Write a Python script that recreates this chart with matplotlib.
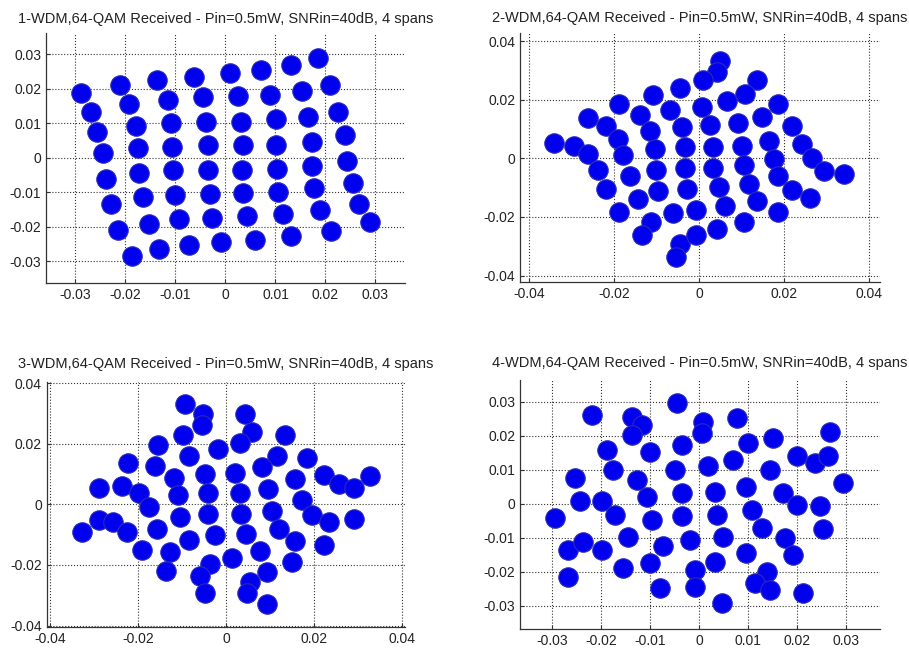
import matplotlib
matplotlib.use('Agg')
import matplotlib.pyplot as plt

plt.rcParams['font.family'] = ['Liberation Sans', 'DejaVu Sans']

TITLE = '{}-WDM,64-QAM Received - Pin=0.5mW, SNRin=40dB, 4 spans'

# --- 1 WDM channel: received symbol clusters (centres) ---
I1 = [-0.0289, -0.0211, -0.0136, -0.0063, 0.0009, 0.0072, 0.0132, 0.0186,
      -0.0269, -0.0193, -0.0115, -0.0045, 0.0025, 0.0089, 0.0153, 0.0209,
      -0.0256, -0.0179, -0.0108, -0.0038, 0.0032, 0.0101, 0.0166, 0.0226,
      -0.0245, -0.0175, -0.0106, -0.0035, 0.0035, 0.0102, 0.0173, 0.0239,
      -0.0239, -0.0172, -0.0104, -0.0035, 0.0034, 0.0104, 0.0174, 0.0243,
      -0.0229, -0.0164, -0.0100, -0.0031, 0.0035, 0.0106, 0.0178, 0.0255,
      -0.0215, -0.0153, -0.0092, -0.0027, 0.0043, 0.0116, 0.0189, 0.0268,
      -0.0187, -0.0133, -0.0073, -0.0008, 0.0059, 0.0131, 0.0211, 0.0290]
Q1 = [0.0186, 0.0211, 0.0225, 0.0235, 0.0244, 0.0254, 0.0267, 0.0288,
      0.0133, 0.0156, 0.0167, 0.0175, 0.0180, 0.0182, 0.0194, 0.0211,
      0.0075, 0.0092, 0.0100, 0.0104, 0.0104, 0.0111, 0.0117, 0.0133,
      0.0013, 0.0027, 0.0032, 0.0037, 0.0037, 0.0037, 0.0046, 0.0066,
      -0.0063, -0.0044, -0.0037, -0.0037, -0.0035, -0.0032, -0.0025, -0.0010,
      -0.0133, -0.0115, -0.0109, -0.0104, -0.0101, -0.0099, -0.0089, -0.0072,
      -0.0210, -0.0192, -0.0179, -0.0176, -0.0169, -0.0163, -0.0152, -0.0133,
      -0.0285, -0.0265, -0.0253, -0.0243, -0.0237, -0.0227, -0.0212, -0.0186]

# --- 2 WDM channels ---
I2 = [0.0050, 0.0042, 0.0010, 0.0136, 0.0109, -0.0045, -0.0108, -0.0187,
      -0.0069, -0.0139, 0.0006, 0.0065, 0.0187, 0.0148, 0.0093, 0.0026,
      -0.0041, -0.0116, -0.0261, -0.0218, -0.0191, -0.0340, -0.0293, -0.0261,
      -0.0179, -0.0104, -0.0033, 0.0034, 0.0101, 0.0164, 0.0219, 0.0243,
      0.0266, -0.0238, -0.0163, -0.0100, -0.0033, 0.0034, 0.0105, 0.0176,
      0.0294, 0.0341, -0.0218, -0.0143, -0.0096, -0.0028, 0.0046, 0.0117,
      0.0187, 0.0219, 0.0262, -0.0187, -0.0112, -0.0061, -0.0006, 0.0061,
      0.0136, 0.0187, -0.0135, -0.0045, -0.0006, 0.0042, 0.0105, -0.0053]
Q2 = [0.0334, 0.0294, 0.0266, 0.0268, 0.0220, 0.0241, 0.0218, 0.0186,
      0.0166, 0.0147, 0.0175, 0.0195, 0.0186, 0.0141, 0.0120, 0.0113,
      0.0107, 0.0095, 0.0139, 0.0109, 0.0067, 0.0052, 0.0044, 0.0016,
      0.0010, 0.0033, 0.0039, 0.0039, 0.0044, 0.0061, 0.0109, 0.0048,
      0.0002, -0.0040, -0.0061, -0.0038, -0.0034, -0.0034, -0.0023, -0.0003,
      -0.0042, -0.0054, -0.0106, -0.0137, -0.0111, -0.0103, -0.0099, -0.0086,
      -0.0061, -0.0109, -0.0134, -0.0183, -0.0217, -0.0186, -0.0177, -0.0163,
      -0.0145, -0.0183, -0.0263, -0.0291, -0.0263, -0.0240, -0.0217, -0.0337]

# --- 3 WDM channels ---
I3 = [-0.0093, -0.0051, -0.0055, -0.0097, 0.0044, 0.0059, 0.0033, 0.0135,
      -0.0154, -0.0085, -0.0017, 0.0116, 0.0185, -0.0222, -0.0161, -0.0047,
      0.0021, 0.0082, -0.0119, 0.0158, 0.0223, 0.0329, 0.0257, 0.0291,
      -0.0290, -0.0237, -0.0199, -0.0108, -0.0040, 0.0033, 0.0097, 0.0173,
      -0.0176, -0.0104, -0.0040, 0.0034, 0.0105, 0.0196, 0.0234, 0.0291,
      -0.0328, -0.0290, -0.0256, -0.0226, -0.0157, -0.0083, -0.0024, 0.0046,
      0.0120, 0.0158, 0.0223, -0.0191, -0.0127, 0.0014, 0.0078, 0.0150,
      -0.0136, -0.0036, -0.0060, 0.0093, 0.0055, 0.0049, -0.0047, 0.0093]
Q3 = [0.0330, 0.0297, 0.0261, 0.0228, 0.0299, 0.0239, 0.0202, 0.0228,
      0.0195, 0.0159, 0.0181, 0.0159, 0.0154, 0.0137, 0.0126, 0.0101,
      0.0104, 0.0123, 0.0086, 0.0082, 0.0097, 0.0093, 0.0066, 0.0055,
      0.0055, 0.0060, 0.0038, 0.0030, 0.0038, 0.0038, 0.0049, 0.0015,
      -0.0009, -0.0042, -0.0033, -0.0031, -0.0022, -0.0036, -0.0059, -0.0048,
      -0.0092, -0.0051, -0.0059, -0.0092, -0.0081, -0.0119, -0.0103, -0.0097,
      -0.0081, -0.0122, -0.0136, -0.0152, -0.0158, -0.0177, -0.0155, -0.0191,
      -0.0221, -0.0197, -0.0235, -0.0224, -0.0257, -0.0294, -0.0294, -0.0329]

# --- 4 WDM channels ---
I4 = [-0.0219, -0.0138, -0.0117, -0.0138, -0.0046, 0.0009, 0.0006, 0.0077,
      -0.0035, -0.0189, -0.0100, 0.0101, 0.0152, 0.0268, 0.0200, 0.0237,
      0.0264, 0.0070, 0.0019, -0.0049, -0.0175, -0.0127, -0.0254, 0.0145,
      0.0295, -0.0035, 0.0033, 0.0097, 0.0172, -0.0243, -0.0199, -0.0107,
      0.0200, 0.0247, -0.0294, -0.0172, -0.0097, -0.0035, 0.0036, 0.0108,
      0.0128, 0.0254, -0.0145, -0.0018, 0.0050, 0.0176, -0.0073, -0.0267,
      -0.0237, -0.0199, 0.0097, 0.0193, -0.0100, 0.0033, -0.0155, -0.0008,
      -0.0267, 0.0138, 0.0115, 0.0145, -0.0080, -0.0008, 0.0213, 0.0046]
Q4 = [0.0261, 0.0256, 0.0231, 0.0202, 0.0295, 0.0241, 0.0207, 0.0251,
      0.0173, 0.0158, 0.0153, 0.0178, 0.0193, 0.0212, 0.0139, 0.0120,
      0.0139, 0.0129, 0.0110, 0.0100, 0.0100, 0.0071, 0.0076, 0.0098,
      0.0061, 0.0032, 0.0035, 0.0050, 0.0032, 0.0009, 0.0009, 0.0019,
      -0.0004, -0.0007, -0.0043, -0.0033, -0.0048, -0.0036, -0.0033, -0.0019,
      -0.0073, -0.0075, -0.0097, -0.0107, -0.0097, -0.0102, -0.0125, -0.0136,
      -0.0112, -0.0136, -0.0146, -0.0151, -0.0174, -0.0171, -0.0190, -0.0195,
      -0.0217, -0.0200, -0.0234, -0.0254, -0.0249, -0.0244, -0.0264, -0.0291]

# axis ticks as printed in each panel
TICKS_A = [-0.03, -0.02, -0.01, 0, 0.01, 0.02, 0.03]
LABELS_A = ['-0.03', '-0.02', '-0.01', '0', '0.01', '0.02', '0.03']
TICKS_B = [-0.04, -0.02, 0, 0.02, 0.04]
LABELS_B = ['-0.04', '-0.02', '0', '0.02', '0.04']

# --- Panel layout (figure fractions) and axis limits ---
panels = [
    dict(n=1, I=I1, Q=Q1, rect=[0.0506, 0.5639, 0.3949, 0.3852],
         xlim=(-0.0359, 0.0359), ylim=(-0.0363, 0.0361),
         ticks=TICKS_A, labels=LABELS_A, pad=7),
    dict(n=2, I=I2, Q=Q2, rect=[0.5721, 0.5650, 0.3960, 0.3841],
         xlim=(-0.0421, 0.0426), ylim=(-0.0423, 0.0428),
         ticks=TICKS_B, labels=LABELS_B, pad=8),
    dict(n=3, I=I3, Q=Q3, rect=[0.0514, 0.0334, 0.3942, 0.3787],
         xlim=(-0.0408, 0.0408), ylim=(-0.0406, 0.0405),
         ticks=TICKS_B, labels=LABELS_B, pad=10),
    dict(n=4, I=I4, Q=Q4, rect=[0.5721, 0.0313, 0.3960, 0.3832],
         xlim=(-0.0366, 0.0370), ylim=(-0.0368, 0.0364),
         ticks=TICKS_A, labels=LABELS_A, pad=9.5),
]

fig = plt.figure(figsize=(9.09, 6.49), dpi=100)

for p in panels:
    ax = fig.add_axes(p['rect'])
    ax.plot(p['I'], p['Q'], 'o', markersize=14, markerfacecolor='#0000EE',
            markeredgecolor='#2B2BB8', markeredgewidth=0.8, linestyle='none')
    ax.set_xlim(*p['xlim'])
    ax.set_ylim(*p['ylim'])
    ax.set_xticks(p['ticks'], p['labels'])
    ax.set_yticks(p['ticks'], p['labels'])
    ax.grid(True, linestyle=':', color='#333333', linewidth=0.8)
    ax.set_axisbelow(True)
    ax.spines['top'].set_visible(False)
    ax.spines['right'].set_visible(False)
    for s in ('left', 'bottom'):
        ax.spines[s].set_color('#333333')
        ax.spines[s].set_linewidth(0.9)
    ax.tick_params(direction='in', length=3, width=0.8, colors='#333333',
                   labelsize=10, labelcolor='#222222', pad=3.5)
    ax.set_title(TITLE.format(p['n']), fontsize=10.5, color='#222222',
                 pad=p['pad'])

plt.savefig('out.png', dpi=100)
